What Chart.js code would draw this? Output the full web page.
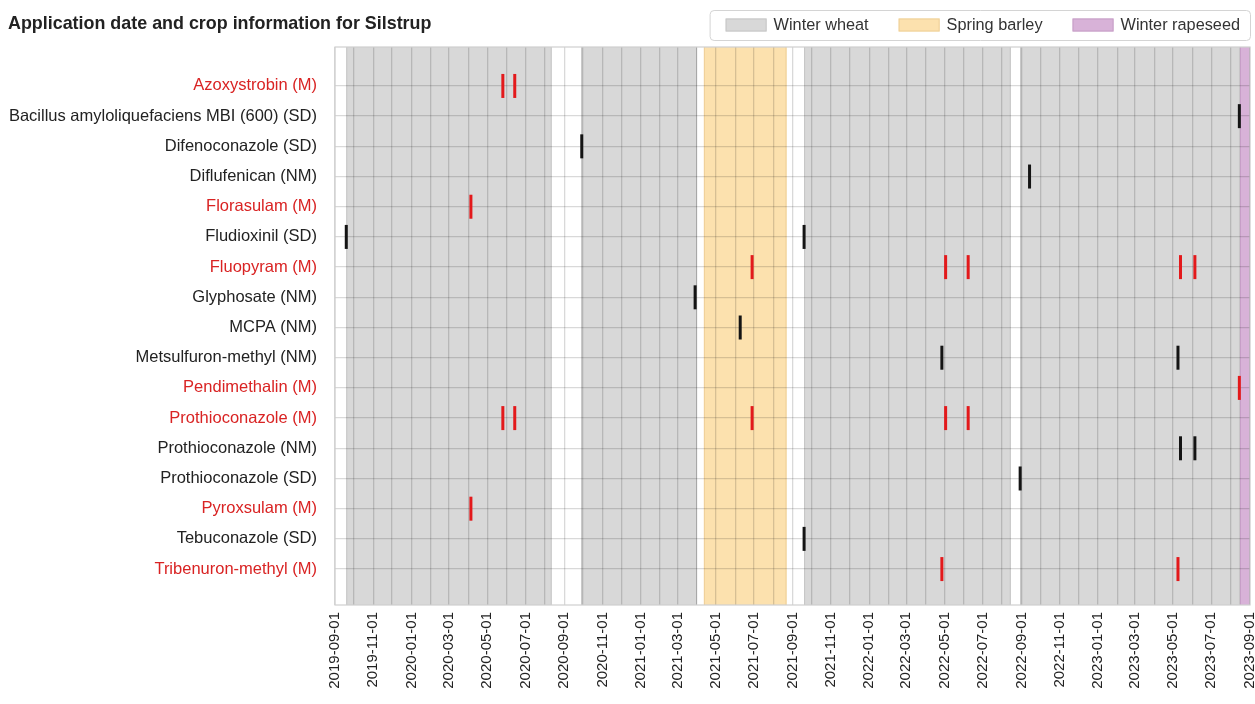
<!DOCTYPE html>
<html>
<head>
<meta charset="utf-8">
<script src="https://cdn.jsdelivr.net/npm/chart.js@4/dist/chart.umd.min.js"></script>
<style>
  html, body { margin: 0; padding: 0; background: #ffffff; }
  #wrap { width: 1255px; height: 704px; }
</style>
</head>
<body>
<div id="wrap"><canvas id="chart" width="1255" height="704"></canvas></div>
<script>
// ---- data ----
const chartTitle = 'Application date and crop information for Silstrup';
const axisStart = '2019-09-01';
const axisEnd = '2023-09-01';

const substances = [
  'Azoxystrobin (M)',
  'Bacillus amyloliquefaciens MBI (600) (SD)',
  'Difenoconazole (SD)',
  'Diflufenican (NM)',
  'Florasulam (M)',
  'Fludioxinil (SD)',
  'Fluopyram (M)',
  'Glyphosate (NM)',
  'MCPA (NM)',
  'Metsulfuron-methyl (NM)',
  'Pendimethalin (M)',
  'Prothioconazole (M)',
  'Prothioconazole (NM)',
  'Prothioconazole (SD)',
  'Pyroxsulam (M)',
  'Tebuconazole (SD)',
  'Tribenuron-methyl (M)'
];

const applicationDates = [
  ['2020-05-26', '2020-06-14'],
  ['2023-08-15'],
  ['2020-09-29'],
  ['2022-09-14'],
  ['2020-04-05'],
  ['2019-09-19', '2021-09-19'],
  ['2021-06-28', '2022-05-03', '2022-06-08', '2023-05-13', '2023-06-05'],
  ['2021-03-29'],
  ['2021-06-09'],
  ['2022-04-27', '2023-05-09'],
  ['2023-08-15'],
  ['2020-05-26', '2020-06-14', '2021-06-28', '2022-05-03', '2022-06-08'],
  ['2023-05-13', '2023-06-05'],
  ['2022-08-30'],
  ['2020-04-05'],
  ['2021-09-19'],
  ['2022-04-27', '2023-05-09']
];

const cropNames  = ['Winter wheat', 'Winter wheat', 'Spring barley', 'Winter wheat', 'Winter wheat', 'Winter rapeseed'];
const cropStarts = ['2019-09-19', '2020-09-28', '2021-04-12', '2021-09-19', '2022-08-30', '2023-08-16'];
const cropEnds   = ['2020-08-12', '2021-04-01', '2021-08-22', '2022-08-15', '2023-08-16', '2023-09-30'];

// ---- styles ----
const cropFill = {
  'Winter wheat':    'rgb(216,216,216)',
  'Spring barley':   'rgb(252,225,174)',
  'Winter rapeseed': 'rgb(216,178,216)'
};
const cropEdge = {
  'Winter wheat':    'rgb(198,198,198)',
  'Spring barley':   'rgb(238,207,152)',
  'Winter rapeseed': 'rgb(198,158,198)'
};
const measuredColor = '#e3191b';
const labelRed = '#d92323';
const darkText = '#222222';
const fontFamily = '"Liberation Sans", Arial, Helvetica, sans-serif';

// ---- helpers ----
const DAY = 86400000;
function toUTC(s) { const [y, m, d] = s.split('-').map(Number); return Date.UTC(y, m - 1, d); }
const origin = toUTC(axisStart);
function dayOf(s) { return (toUTC(s) - origin) / DAY; }
const isMeasured = name => name.endsWith('(M)');

// month ticks: every month carries a grid line, every second month a label
const monthTicks = [];
{
  const [y0, m0] = axisStart.split('-').map(Number);
  const endDay = dayOf(axisEnd);
  for (let k = 0; ; k++) {
    const y = y0 + Math.floor((m0 - 1 + k) / 12);
    const m = (m0 - 1 + k) % 12 + 1;
    const s = y + '-' + String(m).padStart(2, '0') + '-01';
    const d = dayOf(s);
    if (d > endDay) break;
    monthTicks.push({ value: d, label: k % 2 === 0 ? s : '' });
  }
}

// scatter points, split into measured (M) and the rest
const measuredPts = [], otherPts = [];
substances.forEach((name, row) => {
  applicationDates[row].forEach(dt => {
    (isMeasured(name) ? measuredPts : otherPts).push({ x: dayOf(dt), y: row });
  });
});

// ---- plugins ----
const cropBands = {
  id: 'cropBands',
  beforeDraw(chart) {
    const { ctx, chartArea: a, scales: { x } } = chart;
    ctx.save();
    ctx.beginPath();
    ctx.rect(a.left, a.top, a.right - a.left, a.bottom - a.top);
    ctx.clip();
    cropNames.forEach((name, i) => {
      const x0 = Math.max(a.left, x.getPixelForValue(dayOf(cropStarts[i])));
      const x1 = Math.min(a.right, x.getPixelForValue(dayOf(cropEnds[i])));
      ctx.fillStyle = cropFill[name];
      ctx.fillRect(x0, a.top, x1 - x0, a.bottom - a.top);
      ctx.strokeStyle = cropEdge[name];
      ctx.lineWidth = 1;
      ctx.strokeRect(x0 + 0.5, a.top - 1, x1 - x0 - 1, a.bottom - a.top + 2);
    });
    ctx.restore();
  }
};

const frameAndHeader = {
  id: 'frameAndHeader',
  afterDraw(chart) {
    const { ctx, chartArea: a } = chart;
    ctx.save();
    // plot frame
    ctx.strokeStyle = '#cfcfcf';
    ctx.lineWidth = 1.2;
    ctx.strokeRect(a.left, a.top, a.right - a.left, a.bottom - a.top);

    // title
    ctx.fillStyle = darkText;
    ctx.font = 'bold 17.9px ' + fontFamily;
    ctx.textBaseline = 'middle';
    ctx.textAlign = 'left';
    ctx.fillText(chartTitle, 8, 24);

    // legend: one entry per crop, in order of first appearance
    const entries = [...new Set(cropNames)];
    ctx.font = '16.3px ' + fontFamily;
    const sw = 41, sh = 13, gapText = 7, gapItem = 30, padL = 16, padR = 10;
    const widths = entries.map(e => ctx.measureText(e).width);
    let total = padL + padR;
    widths.forEach((w, i) => { total += sw + gapText + w + (i < widths.length - 1 ? gapItem : 0); });
    const boxRight = 1250, boxTop = 10, boxH = 30;
    const boxLeft = boxRight - total;
    ctx.fillStyle = '#ffffff';
    ctx.strokeStyle = '#d4d4d4';
    ctx.lineWidth = 1;
    ctx.beginPath();
    ctx.roundRect(boxLeft + 0.5, boxTop + 0.5, total, boxH, 4);
    ctx.fill();
    ctx.stroke();
    let cx = boxLeft + padL;
    const cy = boxTop + boxH / 2;
    entries.forEach((e, i) => {
      ctx.fillStyle = cropFill[e];
      ctx.fillRect(cx, cy - sh / 2, sw, sh);
      ctx.strokeStyle = cropEdge[e];
      ctx.strokeRect(cx + 0.5, cy - sh / 2 + 0.5, sw - 1, sh - 1);
      cx += sw + gapText;
      ctx.fillStyle = '#333333';
      ctx.fillText(e, cx, cy + 1);
      cx += widths[i] + gapItem;
    });
    ctx.restore();
  }
};

// ---- chart ----
Chart.defaults.font.family = fontFamily;

const markerStyle = {
  pointStyle: 'line',
  rotation: 90,
  pointRadius: 12,
  pointHoverRadius: 12,
  pointBorderWidth: 3,
  pointHoverBorderWidth: 3,
  showLine: false
};

new Chart(document.getElementById('chart'), {
  type: 'scatter',
  data: {
    datasets: [
      Object.assign({ label: 'Measured', data: measuredPts, borderColor: measuredColor, backgroundColor: measuredColor }, markerStyle),
      Object.assign({ label: 'Other', data: otherPts, borderColor: '#141414', backgroundColor: '#141414' }, markerStyle)
    ]
  },
  options: {
    responsive: false,
    animation: false,
    events: [],
    layout: { autoPadding: false, padding: { left: 8, top: 47, right: 5, bottom: 0 } },
    plugins: {
      legend: { display: false },
      tooltip: { enabled: false },
      title: { display: false }
    },
    scales: {
      x: {
        type: 'linear',
        min: 0,
        max: dayOf(axisEnd),
        afterBuildTicks(scale) { scale.ticks = monthTicks.map(t => ({ value: t.value })); },
        afterFit(scale) { scale.height = 99; scale.paddingLeft = 0; scale.paddingRight = 0; },
        ticks: {
          autoSkip: false,
          minRotation: 90,
          maxRotation: 90,
          padding: 7,
          color: darkText,
          font: { size: 15 },
          callback: (v, i) => monthTicks[i] ? monthTicks[i].label : ''
        },
        grid: { color: 'rgba(0,0,0,0.15)', lineWidth: 1.3, drawTicks: false },
        border: { display: false }
      },
      y: {
        type: 'linear',
        reverse: true,
        min: -1.29,
        max: 17.19,
        afterBuildTicks(scale) { scale.ticks = substances.map((_, i) => ({ value: i })); },
        afterFit(scale) { scale.width = 327; scale.paddingTop = 0; scale.paddingBottom = 0; },
        ticks: {
          autoSkip: false,
          padding: 18,
          font: { size: 16.5 },
          color: ctx => isMeasured(substances[ctx.tick.value] || '') ? labelRed : darkText,
          callback: v => substances[v]
        },
        grid: { color: 'rgba(0,0,0,0.15)', lineWidth: 1.3, drawTicks: false },
        border: { display: false }
      }
    }
  },
  plugins: [cropBands, frameAndHeader]
});
</script>
</body>
</html>
